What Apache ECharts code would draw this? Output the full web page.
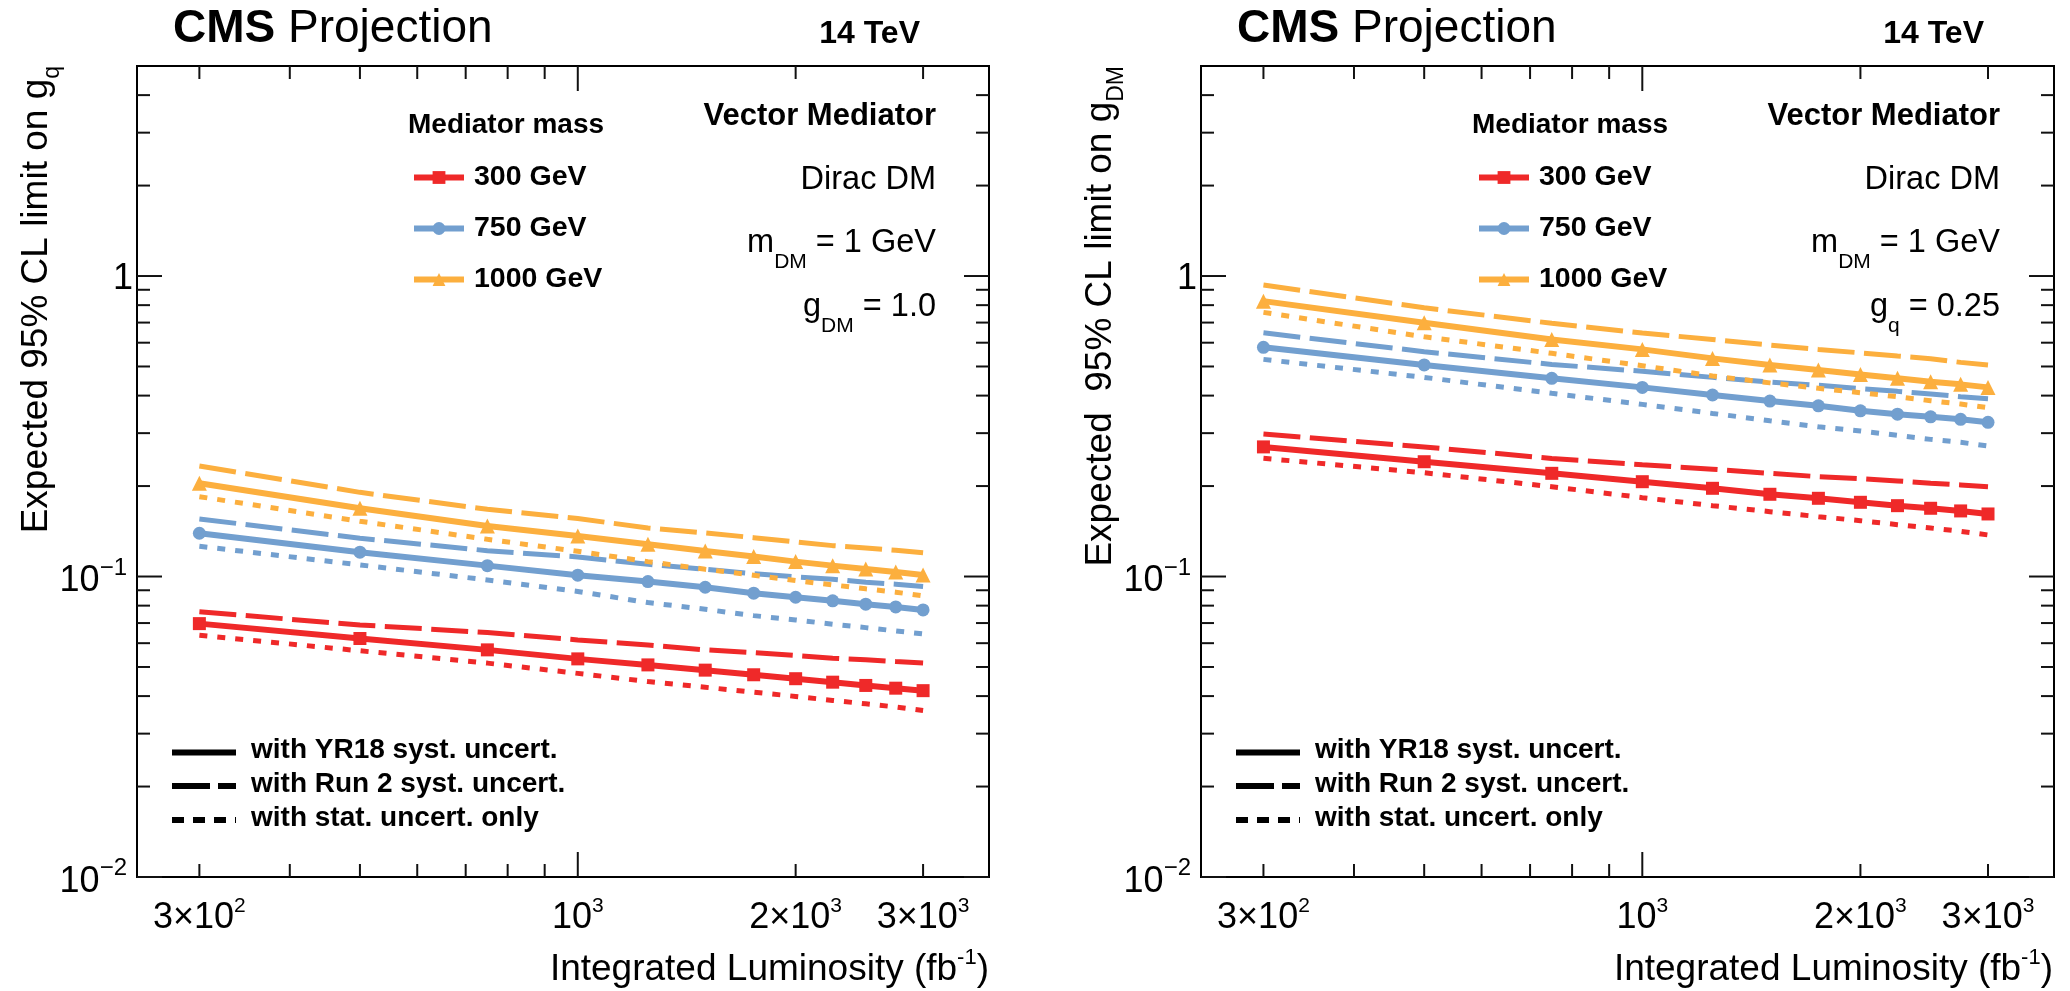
<!DOCTYPE html>
<html><head><meta charset="utf-8">
<script src="https://cdn.jsdelivr.net/npm/echarts@6/dist/echarts.min.js"></script>
<style>html,body{margin:0;padding:0;background:#fff}#c{width:2070px;height:991px}</style>
</head><body><div id="c"></div>
<script>
// ---------------- data ----------------
const lumi = [300, 500, 750, 1000, 1250, 1500, 1750, 2000, 2250, 2500, 2750, 3000];

// Left panel: expected limit on g_q
const gq_300_yr18  = [0.0697, 0.0622, 0.0570, 0.0532, 0.0508, 0.0488, 0.0471, 0.0457, 0.0445, 0.0434, 0.0425, 0.0417];
const gq_300_run2  = [0.0763, 0.0690, 0.0651, 0.0615, 0.0592, 0.0570, 0.0558, 0.0546, 0.0535, 0.0528, 0.0521, 0.0515];
const gq_300_stat  = [0.0638, 0.0566, 0.0515, 0.0476, 0.0447, 0.0428, 0.0412, 0.0399, 0.0387, 0.0377, 0.0368, 0.0358];
const gq_750_yr18  = [0.1393, 0.1205, 0.1087, 0.1010, 0.0962, 0.0921, 0.0880, 0.0853, 0.0830, 0.0809, 0.0792, 0.0774];
const gq_750_run2  = [0.1554, 0.1341, 0.1219, 0.1162, 0.1098, 0.1057, 0.1022, 0.0997, 0.0980, 0.0957, 0.0943, 0.0926];
const gq_750_stat  = [0.1261, 0.1093, 0.0974, 0.0892, 0.0819, 0.0778, 0.0741, 0.0717, 0.0694, 0.0676, 0.0659, 0.0644];
const gq_1000_yr18 = [0.2043, 0.1687, 0.1473, 0.1365, 0.1281, 0.1216, 0.1165, 0.1121, 0.1087, 0.1060, 0.1036, 0.1012];
const gq_1000_run2 = [0.2332, 0.1906, 0.1674, 0.1560, 0.1450, 0.1396, 0.1347, 0.1303, 0.1267, 0.1245, 0.1223, 0.1200];
const gq_1000_stat = [0.1844, 0.1527, 0.1330, 0.1213, 0.1121, 0.1057, 0.1010, 0.0969, 0.0938, 0.0910, 0.0887, 0.0862];

// Right panel: expected limit on g_DM
const gdm_300_yr18  = [0.270, 0.241, 0.2205, 0.2068, 0.1966, 0.1878, 0.1821, 0.1766, 0.1721, 0.1687, 0.1653, 0.1615];
const gdm_300_run2  = [0.298, 0.270, 0.247, 0.2356, 0.2275, 0.2205, 0.2149, 0.2116, 0.2080, 0.2043, 0.2017, 0.1990];
const gdm_300_stat  = [0.2474, 0.2215, 0.199, 0.183, 0.1721, 0.1644, 0.1582, 0.1534, 0.1488, 0.1450, 0.1414, 0.1375];
const gdm_750_yr18  = [0.579, 0.506, 0.4566, 0.426, 0.4018, 0.3837, 0.370, 0.356, 0.347, 0.340, 0.3336, 0.326];
const gdm_750_run2  = [0.647, 0.560, 0.508, 0.482, 0.460, 0.444, 0.4328, 0.4216, 0.4132, 0.405, 0.3967, 0.3905];
const gdm_750_stat  = [0.528, 0.460, 0.407, 0.374, 0.349, 0.330, 0.315, 0.305, 0.295, 0.286, 0.2796, 0.272];
const gdm_1000_yr18 = [0.825, 0.699, 0.615, 0.570, 0.532, 0.5055, 0.4865, 0.4706, 0.4566, 0.4448, 0.436, 0.426];
const gdm_1000_run2 = [0.933, 0.784, 0.696, 0.646, 0.615, 0.589, 0.570, 0.555, 0.5415, 0.5305, 0.516, 0.5055];
const gdm_1000_stat = [0.757, 0.628, 0.553, 0.503, 0.465, 0.441, 0.423, 0.409, 0.3967, 0.3846, 0.375, 0.3646];

const massNames = ['300 GeV', '750 GeV', '1000 GeV'];
const styleNames = ['with YR18 syst. uncert.', 'with Run 2 syst. uncert.', 'with stat. uncert. only'];

// axes
const X_MIN = 246, X_MAX = 3700, Y_MIN = 0.01, Y_MAX = 5;
const xMajorTicks = [1000];
const xMinorTicks = [300, 400, 500, 600, 700, 800, 900, 2000, 3000];
const yMajorTicks = [0.01, 0.1, 1];
const yMinorTicks = [0.02, 0.03, 0.04, 0.05, 0.06, 0.07, 0.08, 0.09, 0.2, 0.3, 0.4, 0.5, 0.6, 0.7, 0.8, 0.9, 2, 3, 4];
const xLabelValues = [300, 1000, 2000, 3000];
const xTickLabels = ['{b|3×10}{p|2}', '{b|10}{p|3}', '{b|2×10}{p|3}', '{b|3×10}{p|3}'];
const yLabelValues = [0.01, 0.1, 1];
const yTickLabels = ['{b|10}{p|−2}', '{b|10}{p|−1}', '{b|1}'];

// ---------------- style ----------------
const FONT = '"Liberation Sans", Arial, Helvetica, sans-serif';
const RED = '#ef2929', BLUE = '#729fcf', ORANGE = '#fcaf3e';
const GRIDS = [
  { left: 137, top: 66, width: 852, height: 811 },
  { left: 1201, top: 66, width: 853, height: 811 }
];

function lineSeries(name, gi, ys, color, kind, symbol, symbolSize) {
  const s = {
    type: 'line', name: name, xAxisIndex: gi, yAxisIndex: gi,
    data: lumi.map((x, i) => [x, ys[i]]),
    color: color, silent: true, z: kind === 'solid' ? 4 : 3,
    lineStyle: { color: color, width: kind === 'solid' ? 6 : 5 },
    itemStyle: { color: color }
  };
  if (kind === 'solid') {
    s.symbol = symbol; s.symbolSize = symbolSize; s.showSymbol = true;
  } else {
    s.symbol = 'none'; s.showSymbol = false;
    s.lineStyle.type = kind === 'dashed' ? [37, 9.5] : [8, 10];
  }
  return s;
}

function panelSeries(gi, sets) {
  const out = [];
  const cols = [RED, BLUE, ORANGE];
  const syms = [['rect', 13], ['circle', 13], ['triangle', 15]];
  for (let m = 0; m < 3; m++) {
    out.push(lineSeries(massNames[m] + ' run2', gi, sets[m][1], cols[m], 'dashed'));
    out.push(lineSeries(massNames[m] + ' stat', gi, sets[m][2], cols[m], 'dotted'));
  }
  for (let m = 0; m < 3; m++) {
    out.push(lineSeries(massNames[m], gi, sets[m][0], cols[m], 'solid', syms[m][0], syms[m][1]));
  }
  return out;
}

function tickSeries(gi) {
  const data = [];
  xMinorTicks.forEach(v => data.push([v, Y_MIN, 0, 0]));
  xMajorTicks.forEach(v => data.push([v, Y_MIN, 0, 1]));
  yMinorTicks.forEach(v => data.push([X_MIN, v, 1, 0]));
  yMajorTicks.forEach(v => data.push([X_MIN, v, 1, 1]));
  return {
    type: 'custom', xAxisIndex: gi, yAxisIndex: gi, silent: true, clip: false, z: 6,
    data: data,
    renderItem: function (params, api) {
      const v0 = api.value(0), v1 = api.value(1), isY = api.value(2), major = api.value(3);
      const len = major ? 25 : 13;
      const st = { stroke: '#111', lineWidth: 2 };
      if (!isY) {
        const pb = api.coord([v0, Y_MIN]), pt = api.coord([v0, Y_MAX]);
        return { type: 'group', children: [
          { type: 'line', shape: { x1: pb[0], y1: pb[1], x2: pb[0], y2: pb[1] - len }, style: st },
          { type: 'line', shape: { x1: pt[0], y1: pt[1], x2: pt[0], y2: pt[1] + len }, style: st }
        ] };
      } else {
        const pl = api.coord([X_MIN, v1]), pr = api.coord([X_MAX, v1]);
        return { type: 'group', children: [
          { type: 'line', shape: { x1: pl[0], y1: pl[1], x2: pl[0] + len, y2: pl[1] }, style: st },
          { type: 'line', shape: { x1: pr[0], y1: pr[1], x2: pr[0] - len, y2: pr[1] }, style: st }
        ] };
      }
    }
  };
}

function labelSeries(gi) {
  const data = [];
  xLabelValues.forEach((v, i) => data.push([v, Y_MIN, 0, i]));
  yLabelValues.forEach((v, i) => data.push([X_MIN, v, 1, i]));
  return {
    type: 'custom', xAxisIndex: gi, yAxisIndex: gi, silent: true, clip: false, z: 6,
    data: data,
    renderItem: function (params, api) {
      const isY = api.value(2), idx = api.value(3);
      if (!isY) {
        const p = api.coord([api.value(0), Y_MIN]);
        return { type: 'text', x: p[0], y: p[1] + 41, style: {
          text: xTickLabels[idx], align: 'center', verticalAlign: 'middle', fill: '#000',
          rich: { b: { fontSize: 36, lineHeight: 44, fontFamily: FONT, fill: '#000' },
                  p: { fontSize: 21, lineHeight: 22, fontFamily: FONT, verticalAlign: 'top', fill: '#000' } } } };
      } else {
        const p = api.coord([X_MIN, api.value(1)]);
        const plain = yTickLabels[idx].indexOf('{p|') < 0;
        return { type: 'text', x: p[0] - (plain ? 4 : 10), y: p[1] + (plain ? 3 : 5), style: {
          text: yTickLabels[idx], align: 'right', verticalAlign: 'middle', fill: '#000',
          rich: { b: { fontSize: 36, lineHeight: 51, fontFamily: FONT, fill: '#000' },
                  p: { fontSize: 24, lineHeight: 24, fontFamily: FONT, verticalAlign: 'top', fill: '#000' } } } };
      }
    }
  };
}

function panelGraphics(dx, ylabelText, ylx, lastAnnot) {
  const g = [];
  const subRich = (size, sub, L) => ({
    t: { fontSize: size, lineHeight: L, fontFamily: FONT, fill: '#000' },
    s: { fontSize: sub, lineHeight: sub, fontFamily: FONT, verticalAlign: 'bottom', fill: '#000' }
  });
  // header
  g.push({ type: 'text', x: 173 + dx, y: 29.5, style: {
    text: '{b|CMS}{r| Projection}', verticalAlign: 'middle', align: 'left',
    rich: { b: { fontSize: 46, fontWeight: 'bold', fontFamily: FONT, fill: '#000' },
            r: { fontSize: 46, fontFamily: FONT, fill: '#000' } } } });
  g.push({ type: 'text', x: 920 + dx, y: 34, style: {
    text: '14 TeV', align: 'right', verticalAlign: 'middle',
    fontSize: 32, fontWeight: 'bold', fontFamily: FONT, fill: '#000' } });
  // y title
  g.push({ type: 'text', x: ylx, y: 66, rotation: Math.PI / 2, style: {
    text: ylabelText, align: 'right', verticalAlign: 'middle', rich: subRich(37, 23, 54) } });
  // x title
  g.push({ type: 'text', x: 989 + dx, y: 970, style: {
    text: '{t|Integrated Luminosity (fb}{p|-1}{t|)}', align: 'right', verticalAlign: 'middle',
    rich: { t: { fontSize: 37, lineHeight: 46, fontFamily: FONT, fill: '#000' },
            p: { fontSize: 22, lineHeight: 22, fontFamily: FONT, verticalAlign: 'top', fill: '#000' } } } });
  // annotations
  g.push({ type: 'text', x: 936 + dx, y: 116, style: {
    text: 'Vector Mediator', align: 'right', verticalAlign: 'middle',
    fontSize: 31, fontWeight: 'bold', fontFamily: FONT, fill: '#000' } });
  g.push({ type: 'text', x: 936 + dx, y: 180.5, style: {
    text: 'Dirac DM', align: 'right', verticalAlign: 'middle', fontSize: 32.5, fontFamily: FONT, fill: '#000' } });
  g.push({ type: 'text', x: 936 + dx, y: 243.5, style: {
    text: '{t|m}{s|DM}{t| = 1 GeV}', align: 'right', verticalAlign: 'middle', rich: subRich(32.5, 21, 59) } });
  g.push({ type: 'text', x: 936 + dx, y: 307.5, style: {
    text: lastAnnot, align: 'right', verticalAlign: 'middle', rich: subRich(32.5, 21, 59) } });
  // legend title
  g.push({ type: 'text', x: 408 + dx, y: 125, style: {
    text: 'Mediator mass', align: 'left', verticalAlign: 'middle',
    fontSize: 28, fontWeight: 'bold', fontFamily: FONT, fill: '#000' } });
  // line style legend
  const lineY = [752.5, 786, 820];
  const dashes = [null, [38, 8], [12, 9]];
  for (let i = 0; i < 3; i++) {
    g.push({ type: 'line', shape: { x1: 172 + dx, y1: lineY[i], x2: 236 + dx, y2: lineY[i] },
      style: { stroke: '#000', lineWidth: 6, lineDash: dashes[i] } });
    g.push({ type: 'text', x: 251 + dx, y: lineY[i] - 2, style: {
      text: styleNames[i], align: 'left', verticalAlign: 'middle',
      fontSize: 28, fontWeight: 'bold', fontFamily: FONT, fill: '#000' } });
  }
  return g;
}

function massLegend(left) {
  return {
    data: massNames, orient: 'vertical', left: left, top: 163, padding: 0,
    itemWidth: 50, itemHeight: 16, itemGap: 22, selectedMode: false,
    lineStyle: { width: 6 },
    textStyle: { fontSize: 28.5, fontWeight: 'bold', fontFamily: FONT, color: '#000', padding: [0, 0, 0, 5] }
  };
}

const axisCommon = {
  type: 'log', logBase: 10,
  axisLine: { show: false }, axisTick: { show: false }, axisLabel: { show: false },
  splitLine: { show: false }, minorTick: { show: false }, minorSplitLine: { show: false }
};

const option = {
  animation: false,
  backgroundColor: '#fff',
  textStyle: { fontFamily: FONT },
  grid: GRIDS.map(g => Object.assign({ show: true, borderColor: '#000', borderWidth: 2, backgroundColor: 'transparent' }, g)),
  xAxis: [0, 1].map(i => Object.assign({ gridIndex: i, min: X_MIN, max: X_MAX }, axisCommon)),
  yAxis: [0, 1].map(i => Object.assign({ gridIndex: i, min: Y_MIN, max: Y_MAX }, axisCommon)),
  legend: [massLegend(411), massLegend(1476)],
  series: [].concat(
    panelSeries(0, [[gq_300_yr18, gq_300_run2, gq_300_stat], [gq_750_yr18, gq_750_run2, gq_750_stat], [gq_1000_yr18, gq_1000_run2, gq_1000_stat]]),
    panelSeries(1, [[gdm_300_yr18, gdm_300_run2, gdm_300_stat], [gdm_750_yr18, gdm_750_run2, gdm_750_stat], [gdm_1000_yr18, gdm_1000_run2, gdm_1000_stat]]),
    [tickSeries(0), tickSeries(1), labelSeries(0), labelSeries(1)]
  ),
  graphic: [].concat(
    panelGraphics(0, '{t|Expected 95% CL limit on g}{s|q}', 37, '{t|g}{s|DM}{t| = 1.0}'),
    panelGraphics(1064, '{t|Expected  95% CL limit on g}{s|DM}', 1101, '{t|g}{s|q}{t| = 0.25}')
  )
};

const chart = echarts.init(document.getElementById('c'), null, { renderer: 'canvas' });
chart.setOption(option);
</script>
</body></html>
